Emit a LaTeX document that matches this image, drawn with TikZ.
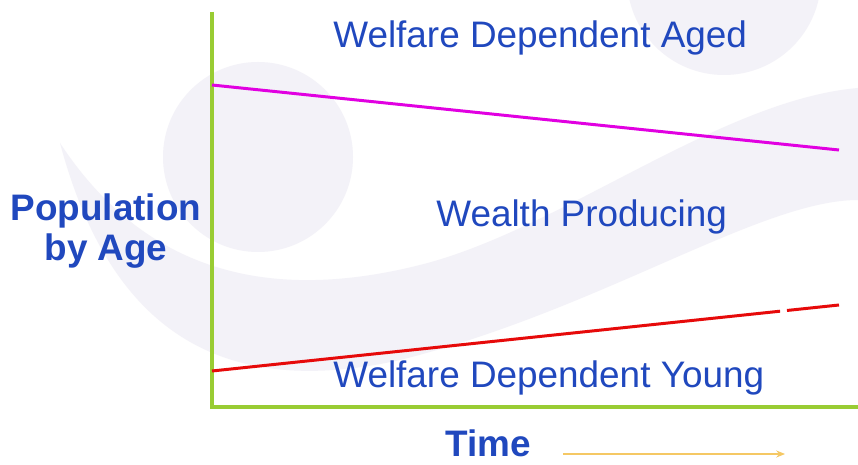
\documentclass[tikz,border=0pt]{standalone}
\usepackage{fontspec}
\setmainfont{Liberation Sans}
\usetikzlibrary{positioning}
\usetikzlibrary{calc, arrows.meta}

\definecolor{axisgreen}{RGB}{153,204,51}
\definecolor{agedline}{RGB}{225,0,225}
\definecolor{youngline}{RGB}{230,10,10}
\definecolor{labelblue}{RGB}{32,72,190}
\definecolor{timearrow}{RGB}{245,200,100}
\definecolor{watermark}{RGB}{243,242,248}

\tikzset{
  bandlabel/.style={font=\fontsize{21}{23}\selectfont, text=labelblue, inner sep=0pt, anchor=base west},
  axislabel/.style={font=\fontsize{21}{23}\selectfont\bfseries, text=labelblue, inner sep=0pt},
  axisline/.style={draw=axisgreen, line width=2.4pt},
}

\begin{document}
\begin{tikzpicture}[x=0.02cm,y=-0.02cm]
\useasboundingbox (0,0) rectangle (858,465);
\fill[white] (0,0) rectangle (858,465);

% faint watermark behind the chart
\begin{scope}
\clip (0,0) rectangle (858,465);
\fill[watermark] (258,157) circle (95);
\fill[watermark] (724,-22) circle (97);
\fill[watermark] (60,143) .. controls (110,330) and (220,400) .. (400,360)
  .. controls (600,310) and (760,200) .. (858,200) -- (858,88)
  .. controls (720,100) and (560,230) .. (420,265)
  .. controls (280,300) and (150,280) .. (60,143) -- cycle;
\end{scope}

% axes
\coordinate (O) at (212,407);
\coordinate (ytop) at (212,12);
\coordinate (xend) at (858,407);
\draw[axisline] (ytop) -- (O) -- (xend);

% band boundaries
\coordinate (agedL) at (212,85);
\coordinate (agedR) at (839,150);
\coordinate (youngL) at (212,371);
\coordinate (youngR) at (839,305);
\draw[agedline, line width=1.7pt] (agedL) -- (agedR);
\coordinate (gapA) at ($(youngL)!0.906!(youngR)$);
\coordinate (gapB) at ($(youngL)!0.917!(youngR)$);
\draw[youngline, line width=1.7pt] (youngL) -- (gapA);
\draw[youngline, line width=1.7pt] (gapB) -- (youngR);

% labels
\node[bandlabel] (aged) at (333,48) {Welfare Dependent Aged};
\node[bandlabel] (wealth) at (436,227) {Wealth Producing};
\node[bandlabel] (young) at (333,388) {Welfare Dependent Young};
\node[axislabel, align=center, anchor=north] (pop) at (106,193) {Population\\by Age};
\node[axislabel, anchor=base west] (time) at (445,457) {Time};

\coordinate (tstart) at (563,454);
\coordinate (tend) at (785,454);
\draw[timearrow, line width=1pt, -{Stealth[length=5pt,width=4pt]}] (tstart) -- (tend);

\end{tikzpicture}
\end{document}
